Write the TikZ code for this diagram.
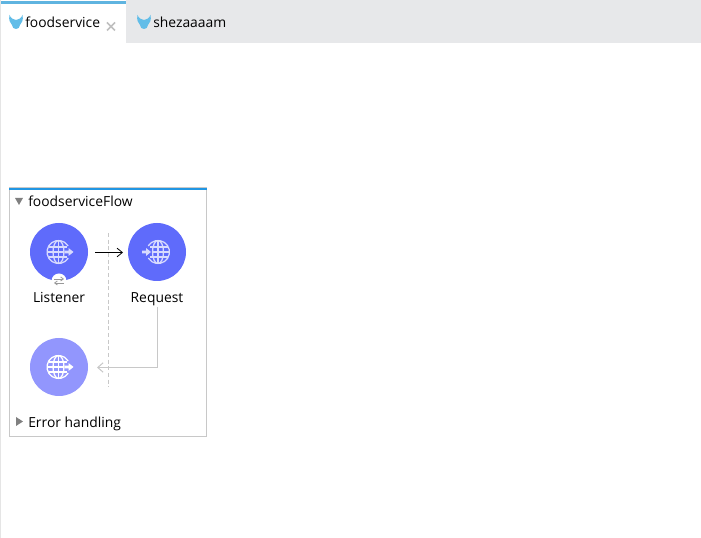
\documentclass[tikz,border=0pt]{standalone}
\usepackage{fontspec}
\setmainfont{Open Sans}
\usetikzlibrary{arrows.meta}
\definecolor{opblue}{HTML}{5F6BFB}
\definecolor{oplight}{HTML}{9296FD}
\definecolor{tabgray}{HTML}{E7E8EA}
\definecolor{tabblue}{HTML}{5FB4E0}
\definecolor{flowblue}{HTML}{2196E3}
\definecolor{framegray}{HTML}{C8C8C8}
\definecolor{muleblue}{HTML}{62BDE8}
\tikzset{
  x=0.75pt,y=-0.75pt,
  lbl/.style={font=\fontsize{10.4pt}{12pt}\selectfont,text=black,inner sep=0pt,anchor=base},
  lblw/.style={lbl,anchor=base west},
  opnode/.style={circle,minimum size=43.5pt,inner sep=0pt,fill=#1},
  tri/.style={fill=black!50,draw=none},
  mule/.pic={\fill[muleblue] (-6.5,-7) .. controls (-5,-3.5) and (-3,-2.5) .. (0,-2) .. controls (3,-2.5) and (5,-3.5) .. (6.5,-7) .. controls (7.5,-2) and (6,1) .. (4,3) .. controls (3.5,5.5) and (2.5,7) .. (0,7) .. controls (-2.5,7) and (-3.5,5.5) .. (-4,3) .. controls (-6,1) and (-7.5,-2) .. (-6.5,-7) -- cycle;},
  globeicon/.pic={
    \begin{scope}[line width=0.95pt,draw=#1]
      \draw (32:11.5) arc[start angle=32,delta angle=296,radius=11.5];
      \draw (0,11.5) arc[start angle=90,delta angle=180,x radius=5.5,y radius=11.5];
      \draw (0,-11.5) arc[start angle=-90,delta angle=180,x radius=5.5,y radius=11.5];
      \draw (0,-11.5) -- (0,11.5);
      \draw (-10,-5) -- (8,-5);
      \draw (-11.5,0) -- (5,0);
      \draw (-10,5) -- (8,5);
    \end{scope}
    \fill[#1] (6,-1.3) -- (10,-1.3) -- (10,-4) -- (15,0) -- (10,4) -- (10,1.3) -- (6,1.3) -- cycle;
  },
  globeiconr/.pic={
    \begin{scope}[line width=0.95pt,draw=#1]
      \draw (212:11.5) arc[start angle=212,delta angle=296,radius=11.5];
      \draw (0,11.5) arc[start angle=90,delta angle=180,x radius=5.5,y radius=11.5];
      \draw (0,-11.5) arc[start angle=-90,delta angle=180,x radius=5.5,y radius=11.5];
      \draw (0,-11.5) -- (0,11.5);
      \draw (-8,-5) -- (10,-5);
      \draw (-5,0) -- (11.5,0);
      \draw (-8,5) -- (10,5);
    \end{scope}
    \fill[#1] (-16,-1.3) -- (-12,-1.3) -- (-12,-4) -- (-7,0) -- (-12,4) -- (-12,1.3) -- (-16,1.3) -- cycle;
  }
}
\begin{document}
\begin{tikzpicture}
\useasboundingbox (0,0) rectangle (701,538);
\fill[white] (0,0) rectangle (701,538);
\fill[tabgray] (126,0) rectangle (701,43);
\fill[black!10] (0,0) rectangle (1,538);
\fill[tabblue] (1,1) rectangle (126,4);
\pic at (16,22) {mule};
\node[lblw] (tabone) at (25,28) {foodservice};
\draw[gray!50,line width=1.2pt] (107,22.5) -- (115,30.5) (115,22.5) -- (107,30.5);
\pic at (144,22) {mule};
\node[lblw] (tabtwo) at (153,28) {shezaaaam};
% flow frame
\draw[framegray,line width=0.75pt] (9.5,188) rectangle (206.5,436.5);
\fill[flowblue] (9,188) rectangle (207,190);
\fill[tri] (15,198) -- (23,198) -- (19,205) -- cycle;
\node[lblw] (flowname) at (28,207) {foodserviceFlow};
\draw[framegray,dashed,dash pattern=on 3pt off 2pt,line width=0.6pt] (108.5,233) -- (108.5,387);
% nodes
\node[opnode=opblue] (listener) at (59,252) {};
\node[opnode=opblue] (request) at (157,252) {};
\node[opnode=oplight] (response) at (59,367) {};
\pic at (58.5,252) {globeicon=white!75!opblue};
\pic at (158,252) {globeiconr=white!75!opblue};
\pic at (58.5,367) {globeicon=white};
% badge
\fill[white] (59,281) circle (7.5);
\draw[gray!80,line width=0.6pt,-{Straight Barb[length=2pt,width=3pt]}] (54,279) -- (64,279);
\draw[gray!80,line width=0.6pt,-{Straight Barb[length=2pt,width=3pt]}] (64,283) -- (54,283);
\node[lbl] (listenerlabel) at (59,302.5) {Listener};
\node[lbl] (requestlabel) at (157,302.5) {Request};
% connectors
\coordinate (arrowstart) at (95,252.5);
\coordinate (arrowend) at (123,252.5);
\draw[black,line width=0.6pt,-{Straight Barb[length=4pt,width=6.5pt]}] (arrowstart) -- (arrowend);
\coordinate (backstart) at (157.5,307);
\coordinate (backcorner) at (157.5,367.5);
\coordinate (backend) at (97,367.5);
\draw[framegray,line width=0.75pt,-{Straight Barb[length=4pt,width=7pt]}] (backstart) -- (backcorner) -- (backend);
% error handling
\fill[tri] (16,417) -- (23,421.5) -- (16,426) -- cycle;
\node[lblw] (errorlabel) at (28,427.5) {Error handling};
\end{tikzpicture}
\end{document}
